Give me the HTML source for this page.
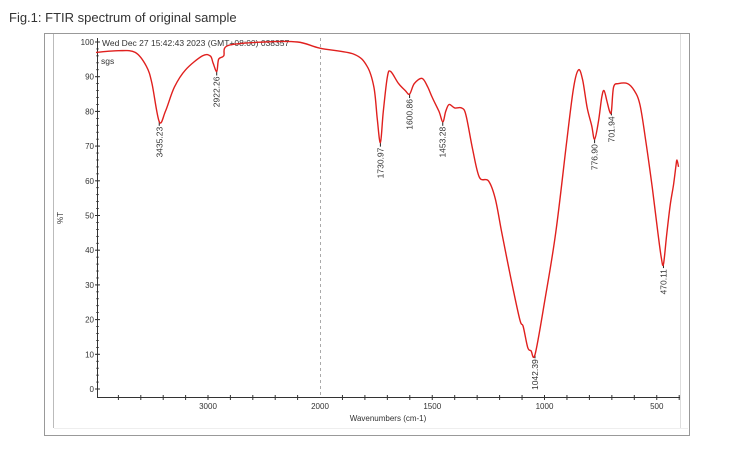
<!DOCTYPE html><html><head><style>body{margin:0;background:#fff;width:733px;height:450px;overflow:hidden;font-family:"Liberation Sans",sans-serif}</style></head><body>
<svg id="s" width="733" height="450" xmlns="http://www.w3.org/2000/svg" font-family="Liberation Sans, sans-serif">
<text x="9" y="22" font-size="13" fill="#333">Fig.1: FTIR spectrum of original sample</text>
<rect x="44.5" y="33.5" width="645" height="402" fill="#fff" stroke="#999"/>
<line x1="53.5" y1="34" x2="53.5" y2="428" stroke="#bbb"/>
<line x1="54" y1="428.5" x2="688" y2="428.5" stroke="#eee"/>
<line x1="680.5" y1="34" x2="680.5" y2="428" stroke="#ddd"/>
<line x1="320.5" y1="38" x2="320.5" y2="397" stroke="#aaa" stroke-dasharray="3,3"/>
<line x1="97.5" y1="38" x2="97.5" y2="397" stroke="#333"/>
<line x1="97" y1="397.5" x2="680" y2="397.5" stroke="#333"/>
<g id="g" font-size="8.5" fill="#333"></g>
<text x="102" y="46" font-size="8.5" fill="#333">Wed Dec 27 15:42:43 2023 (GMT+08:00)   038357</text>
<text x="101" y="64" font-size="8.5" fill="#333">sgs</text>
<text transform="translate(63,218) rotate(-90)" font-size="8" fill="#333" text-anchor="middle">%T</text>
<text x="388" y="421" font-size="8" fill="#333" text-anchor="middle">Wavenumbers (cm-1)</text>
<path id="p" fill="none" stroke="#e0201e" stroke-width="1.4"/>
</svg>
<script>
function X(w){return w>=2000?320-(w-2000)*0.112:320+(2000-w)*0.2245}
function Y(v){return 389-3.47*v}
var d=[[4000,97],[3800,97.5],[3650,97],[3550,93],[3500,88],[3435,77],[3380,80],[3300,87],[3200,92],[3050,96],[2980,96],[2955,94],[2922,91.5],[2905,95],[2860,96],[2820,99],[2500,100],[2200,100],[2000,98.2],[1850,96.5],[1790,93],[1760,87],[1745,78],[1731,71],[1718,80],[1700,90],[1685,91.5],[1650,88],[1620,86],[1601,85],[1580,88],[1545,89.5],[1520,87],[1500,84],[1470,80],[1453,77],[1440,80],[1425,82],[1400,81],[1370,81],[1350,79],[1320,69],[1290,61],[1250,60],[1220,55],[1190,45],[1150,32],[1110,20],[1095,18],[1075,12],[1060,11],[1042,10],[1000,25],[950,45],[900,72],[870,87],[848,92],[830,89],[810,81],[790,76],[777,72],[760,77],[745,84],[735,86],[722,83],[710,80],[702,80],[692,87],[670,88],[630,88],[600,86],[575,82],[550,72],[520,58],[495,45],[480,38],[470,36],[455,45],[440,53],[425,59],[415,64],[410,66],[403,64]];
var P=d.map(p=>[X(p[0]),Y(p[1])]),s='M'+P[0][0].toFixed(1)+' '+P[0][1].toFixed(1);
for(var i=0;i<P.length-1;i++){var a=P[i>0?i-1:0],b=P[i],c=P[i+1],e=P[i+2<P.length?i+2:i+1];
s+='C'+(b[0]+(c[0]-a[0])/6).toFixed(1)+' '+(b[1]+(c[1]-a[1])/6).toFixed(1)+' '+(c[0]-(e[0]-b[0])/6).toFixed(1)+' '+(c[1]-(e[1]-b[1])/6).toFixed(1)+' '+c[0].toFixed(1)+' '+c[1].toFixed(1);}
document.getElementById('p').setAttribute('d',s);
var g=document.getElementById('g'),h='';
for(var v=0;v<=100;v+=10){var y=Y(v);h+='<text x="94" y="'+(y+3)+'" text-anchor="end" font-size="8">'+v+'</text><line x1="95" x2="100" y1="'+y+'" y2="'+y+'" stroke="#333"/>';}
for(v=0;v<=100;v+=2){y=Y(v);h+='<line x1="96" x2="99" y1="'+y+'" y2="'+y+'" stroke="#333" stroke-width=".7"/>';}
[[3000,'3000'],[2000,'2000'],[1500,'1500'],[1000,'1000'],[500,'500']].forEach(t=>{h+='<text x="'+X(t[0])+'" y="409" text-anchor="middle" font-size="8">'+t[1]+'</text>'});
for(var w=3800;w>=2100;w-=200)h+='<line x1="'+X(w)+'" x2="'+X(w)+'" y1="395" y2="400" stroke="#333"/>';
for(w=1900;w>=400;w-=100)h+='<line x1="'+X(w)+'" x2="'+X(w)+'" y1="395" y2="400" stroke="#333"/>';
[[3435.23,77],[2922.26,91.5],[1730.97,71],[1600.86,85],[1453.28,77],[1042.39,10],[776.90,72],[701.94,80],[470.11,36]].forEach(p=>{var x=X(p[0]),y=Y(p[1]);h+='<line x1="'+x+'" x2="'+x+'" y1="'+y+'" y2="'+(y+4)+'" stroke="#222"/><text transform="translate('+(x+3)+','+(y+5)+') rotate(-90)" text-anchor="end">'+p[0].toFixed(2)+'</text>'});
g.innerHTML=h;
</script>
</body></html>
